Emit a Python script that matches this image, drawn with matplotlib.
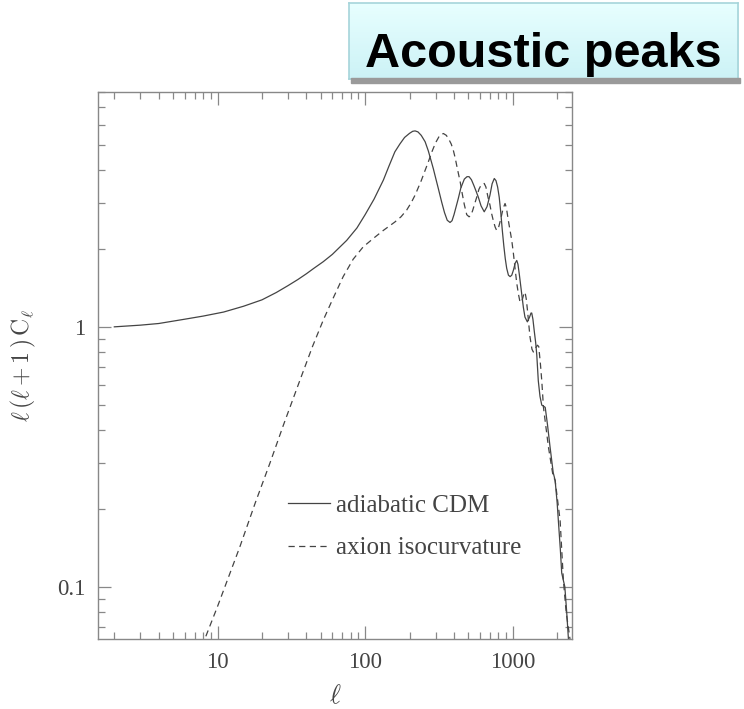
import numpy as np
import matplotlib
matplotlib.use("Agg")
import matplotlib.pyplot as plt
from matplotlib import patches
from matplotlib.ticker import LogLocator, NullFormatter, FuncFormatter

# multipole l and l(l+1)C_l for the two models
ell_adi = [2, 3, 4, 6, 8, 11, 15, 20, 25, 30, 35, 40, 45, 52, 60, 67, 75, 88,
           100, 115, 133, 145, 159, 172, 185, 200, 210, 218, 228, 240, 255,
           268, 280, 290, 300, 313, 330, 345, 360, 376, 388, 400, 415, 428,
           445, 470, 490, 506, 525, 545, 565, 585, 610, 641, 670, 701, 725,
           750, 770, 790, 810, 830, 850, 870, 890, 910, 935, 960, 985, 1010,
           1040, 1065, 1085, 1110, 1150, 1180, 1210, 1256, 1300, 1330, 1345,
           1370, 1400, 1430, 1455, 1490, 1530, 1573, 1620, 1660, 1720, 1790,
           1880, 1937, 2000, 2037, 2100, 2147, 2254, 2320, 2384, 2450]
cl_adi = [1.00, 1.015, 1.03, 1.07, 1.10, 1.14, 1.20, 1.27, 1.355, 1.44, 1.52,
          1.60, 1.68, 1.78, 1.90, 2.02, 2.15, 2.40, 2.70, 3.10, 3.67, 4.15,
          4.71, 5.05, 5.35, 5.55, 5.65, 5.67, 5.62, 5.45, 5.15, 4.75, 4.35,
          4.05, 3.75, 3.41, 3.02, 2.75, 2.57, 2.52, 2.56, 2.70, 2.92, 3.12,
          3.42, 3.70, 3.78, 3.78, 3.68, 3.50, 3.32, 3.15, 2.92, 2.77, 2.90,
          3.21, 3.55, 3.72, 3.65, 3.45, 3.15, 2.75, 2.35, 2.05, 1.83, 1.68,
          1.58, 1.56, 1.58, 1.65, 1.76, 1.80, 1.74, 1.58, 1.34, 1.19, 1.09,
          1.045, 1.09, 1.13, 1.13, 1.07, 0.96, 0.87, 0.78, 0.62, 0.54, 0.50,
          0.495, 0.49, 0.42, 0.345, 0.275, 0.257, 0.21, 0.18, 0.14, 0.113,
          0.100, 0.080, 0.063, 0.055]

ell_iso = [7.5, 8.2, 10, 14.2, 18, 22.6, 28, 36.2, 44, 52, 60, 71, 83, 97, 115,
           133, 159, 175, 191, 205, 218, 240, 255, 268, 285, 300, 320, 339,
           355, 370, 383, 395, 408, 420, 441, 455, 470, 488, 506, 520, 535,
           555, 570, 590, 612, 641, 658, 680, 701, 720, 740, 760, 778, 800,
           830, 860, 887, 905, 930, 955, 985, 1010, 1040, 1065, 1092, 1122,
           1160, 1190, 1211, 1235, 1260, 1285, 1309, 1350, 1380, 1430, 1470,
           1500, 1540, 1573, 1615, 1745, 1880, 1937, 2094, 2204, 2300, 2443,
           2500]
cl_iso = [0.054, 0.063, 0.084, 0.143, 0.21, 0.298, 0.42, 0.624, 0.84, 1.06,
          1.27, 1.56, 1.82, 2.03, 2.20, 2.35, 2.53, 2.65, 2.81, 3.00, 3.21,
          3.65, 4.00, 4.31, 4.75, 5.10, 5.45, 5.54, 5.45, 5.25, 5.05, 4.80,
          4.45, 4.10, 3.60, 3.25, 2.95, 2.70, 2.65, 2.68, 2.80, 3.00, 3.15,
          3.38, 3.52, 3.56, 3.45, 3.15, 2.94, 2.72, 2.55, 2.42, 2.35, 2.40,
          2.60, 2.85, 2.98, 2.88, 2.60, 2.38, 2.15, 1.92, 1.65, 1.47, 1.34,
          1.24, 1.27, 1.34, 1.36, 1.28, 1.15, 1.02, 0.915, 0.82, 0.80, 0.83,
          0.85, 0.84, 0.72, 0.62, 0.49, 0.345, 0.265, 0.257, 0.18, 0.106,
          0.080, 0.063, 0.056]

labels = ["adiabatic CDM", "axion isocurvature"]
title = "Acoustic peaks"

plt.rcParams["mathtext.fontset"] = "cm"
serif = "Liberation Serif"
ink = "#444444"
frame = "#888888"

fig = plt.figure(figsize=(7.44, 7.09), dpi=100)
ax = fig.add_axes([0.1317, 0.0987, 0.6371, 0.7715])

ax.plot(ell_adi, cl_adi, color=ink, lw=0.9, ls="-", label=labels[0])
ax.plot(ell_iso, cl_iso, color=ink, lw=0.9, dashes=(5, 3.5), label=labels[1])

ax.set_xscale("log")
ax.set_yscale("log")
ax.set_xlim(1.55, 2520)
ax.set_ylim(0.063, 8.0)

for s in ax.spines.values():
    s.set_color(frame)
    s.set_linewidth(1.0)

for axis in (ax.xaxis, ax.yaxis):
    axis.set_major_locator(LogLocator(base=10))
    axis.set_minor_locator(LogLocator(base=10, subs=np.arange(2, 10)))
    axis.set_minor_formatter(NullFormatter())
    axis.set_major_formatter(FuncFormatter(lambda v, p: "%g" % v))

ax.tick_params(which="both", direction="in", top=True, right=True,
               color=frame, width=0.9)
ax.tick_params(which="major", length=9.5, pad=9, labelsize=16.5,
               labelcolor=ink)
ax.tick_params(which="minor", length=5)
for lab in ax.get_xticklabels() + ax.get_yticklabels():
    lab.set_family(serif)

ax.set_xlabel(r"$\ell$", fontsize=19, color=ink)
ax.xaxis.set_label_coords(0.5, -0.08)
ax.set_ylabel(r"$\ell\,(\ell+1\,)\,\mathrm{C}_\ell$", fontsize=17, color=ink)
ax.yaxis.set_label_coords(-0.127, 0.5)

leg = ax.legend(loc="center left", bbox_to_anchor=(0.401, 0.205),
                frameon=False, borderpad=0, borderaxespad=0,
                handlelength=1.68, handletextpad=0.24, labelspacing=0.8,
                prop={"family": serif, "size": 18})
for t in leg.get_texts():
    t.set_color(ink)

# title box with gradient fill and drop shadow
bx0, by0, bw, bh = 0.469, 0.8886, 0.523, 0.1072
shadow = patches.Rectangle((bx0 + 0.003, by0 - 0.006), bw, 0.008,
                           transform=fig.transFigure, color="#9a9a9a",
                           zorder=0)
fig.patches.append(shadow)
tax = fig.add_axes([bx0, by0, bw, bh])
grad = np.linspace(0, 1, 64).reshape(-1, 1)
top_c = np.array([0.91, 1.0, 1.0])
bot_c = np.array([0.80, 0.95, 0.965])
img = top_c + (bot_c - top_c) * grad[..., None]
tax.imshow(img.reshape(64, 1, 3), aspect="auto", extent=(0, 1, 0, 1))
tax.set_xticks([])
tax.set_yticks([])
for s in tax.spines.values():
    s.set_color("#a6d4da")
    s.set_linewidth(1.2)
fig.text(0.7305, 0.9055, title, ha="center", va="baseline",
         family="Liberation Sans", weight="bold", fontsize=35, color="black")

fig.savefig("out.png", dpi=100)
